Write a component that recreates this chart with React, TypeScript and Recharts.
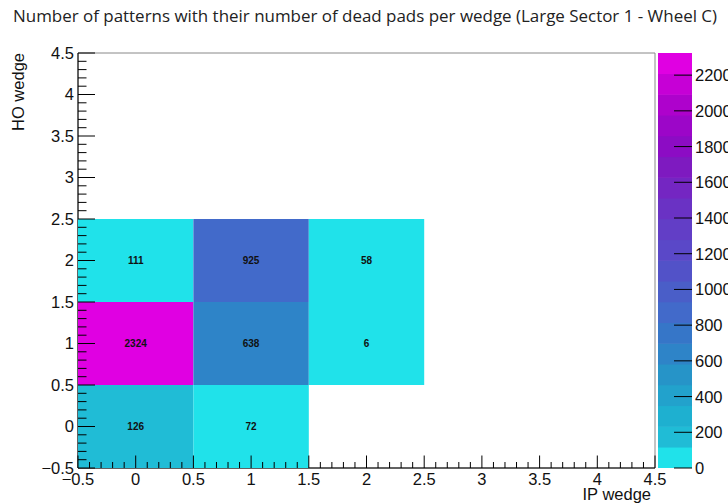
import React from "react";
import { ScatterChart, Scatter, XAxis, YAxis, ReferenceArea } from "recharts";

// bins (IP wedge, HO wedge) and pattern counts
const ipWedge = [0, 1, 0, 1, 2, 0, 1, 2];
const hoWedge = [0, 0, 1, 1, 1, 2, 2, 2];
const patterns = [126, 72, 2324, 638, 6, 111, 925, 58];

const majorTicks = [-0.5, 0, 0.5, 1, 1.5, 2, 2.5, 3, 3.5, 4, 4.5];
const zTicks = [0, 200, 400, 600, 800, 1000, 1200, 1400, 1600, 1800, 2000, 2200];

const palette = [
  "#20e2ea", "#20bcd6", "#1eb0d0", "#22a2cc", "#2694c8",
  "#2e84c8", "#3676c8", "#426aca", "#4a5ec8", "#5252c8",
  "#5a48c8", "#623ec6", "#6a32c4", "#7426c2", "#7e1ac0",
  "#8c0cc4", "#9c06c8", "#ae02cc", "#c600d6", "#e000e2",
];

const W = 728;
const H = 504;
const PL = 78;
const PR = 655;
const PT = 53;
const PB = 468;
const ZL = 658;
const ZR = 692;
const CW = (PR - PL) / 5;
const CH = (PB - PT) / 5;
const BH = (PB - PT) / palette.length;
const ZMAX = Math.max(...patterns);
const FONT = "'Liberation Sans', Arial, sans-serif";

const data = patterns.map((n, i) => ({ ip: ipWedge[i], ho: hoWedge[i], n }));
const bands = palette.map((c, i) => ({ x: 0.5, z: ((i + 0.5) * ZMAX) / palette.length, c }));

// minor ticks every 0.1 between the major ones
const allTicks: number[] = [];
for (let i = 0; i < majorTicks.length - 1; i++) {
  for (let k = 0; k < 5; k++) allTicks.push(Math.round((majorTicks[i] + k * 0.1) * 10) / 10);
}
allTicks.push(majorTicks[majorTicks.length - 1]);

const isMajor = (v: number) => majorTicks.some((m) => Math.abs(m - v) < 1e-6);
const fmt = (v: number) => String(v).replace("-", "\u2212");

const colorOf = (v: number) => {
  const i = Math.min(palette.length - 1, Math.floor((v / ZMAX) * palette.length));
  return palette[i];
};

const YTick = (p: any) => {
  const v = p.payload.value;
  const major = isMajor(v);
  return (
    <g>
      <line x1={PL} x2={PL + (major ? 17 : 8.5)} y1={p.y} y2={p.y} stroke="#000" strokeWidth={1} />
      {major && (
        <text x={PL - 4} y={p.y} dy="0.36em" textAnchor="end" fontSize={16.5} fontFamily={FONT} fill="#111">
          {fmt(v)}
        </text>
      )}
    </g>
  );
};

const XTick = (p: any) => {
  const v = p.payload.value;
  const major = isMajor(v);
  return (
    <g>
      <line x1={p.x} x2={p.x} y1={PB} y2={PB - (major ? 12.5 : 6)} stroke="#000" strokeWidth={1} />
      {major && (
        <text x={p.x} y={PB + 17} textAnchor="middle" fontSize={16.5} fontFamily={FONT} fill="#111">
          {fmt(v)}
        </text>
      )}
    </g>
  );
};

const ZTick = (p: any) => {
  const v = p.payload.value;
  return (
    <g>
      <line x1={ZR} x2={ZR - 18} y1={p.y} y2={p.y} stroke="#000" strokeWidth={1} />
      <text x={ZR + 3} y={p.y} dy="0.36em" textAnchor="start" fontSize={16.5} fontFamily={FONT} fill="#111">
        {v}
      </text>
    </g>
  );
};

const Cell = (p: any) => {
  const { cx, cy, payload } = p;
  return (
    <g>
      <rect x={cx - CW / 2} y={cy - CH / 2} width={CW} height={CH} fill={colorOf(payload.n)} />
      <text x={cx} y={cy} dy="0.36em" textAnchor="middle" fontSize={10} fontWeight="bold" fontFamily={FONT} fill="#111">
        {payload.n}
      </text>
    </g>
  );
};

const Band = (p: any) => {
  const { cy, payload } = p;
  return <rect x={ZL} y={cy - BH / 2 - 0.3} width={ZR - ZL} height={BH + 0.6} fill={payload.c} />;
};

export default function App() {
  return (
    <div style={{ position: "absolute", left: 0, top: 0, width: W, height: H, background: "#fff" }}>
      <div style={{ position: "absolute", left: 0, top: 0 }}>
        <ScatterChart width={W} height={H} margin={{ top: PT, right: W - PR, bottom: 6, left: PL - 60 }}>
          <XAxis
            type="number"
            dataKey="ip"
            domain={[-0.5, 4.5]}
            ticks={allTicks}
            interval={0}
            tick={XTick}
            tickLine={false}
            tickSize={0}
            height={H - PB - 6}
            axisLine={{ stroke: "#000" }}
            allowDataOverflow
          />
          <YAxis
            type="number"
            dataKey="ho"
            domain={[-0.5, 4.5]}
            ticks={allTicks}
            interval={0}
            tick={YTick}
            tickLine={false}
            tickSize={0}
            width={60}
            axisLine={{ stroke: "#000" }}
            allowDataOverflow
          />
          <Scatter data={data} shape={Cell} isAnimationActive={false} />
          <ReferenceArea x1={-0.5} x2={4.5} y1={-0.5} y2={4.5} fill="none" stroke="#888" strokeWidth={1} />
          <text x={365} y={22} textAnchor="middle" fontSize={16} fontFamily="'Open Sans', 'Noto Sans', sans-serif" fill="#222" textLength={704} lengthAdjust="spacingAndGlyphs">
            Number of patterns with their number of dead pads per wedge (Large Sector 1 - Wheel C)
          </text>
          <text x={24} y={PT} textAnchor="end" transform={`rotate(-90 24 ${PT})`} fontSize={16.5} fontFamily={FONT} fill="#111">
            HO wedge
          </text>
          <text x={651} y={500} textAnchor="end" fontSize={16.5} fontFamily={FONT} fill="#111">
            IP wedge
          </text>
        </ScatterChart>
      </div>
      <div style={{ position: "absolute", left: 0, top: 0 }}>
        <ScatterChart width={W} height={H} margin={{ top: PT, right: 0, bottom: H - PB, left: ZL }}>
          <XAxis type="number" dataKey="x" domain={[0, 1]} hide />
          <YAxis
            orientation="right"
            type="number"
            dataKey="z"
            domain={[0, ZMAX]}
            ticks={zTicks}
            interval={0}
            tick={ZTick}
            tickLine={false}
            tickSize={0}
            axisLine={false}
            width={W - ZR}
            allowDataOverflow
          />
          <Scatter data={bands} shape={Band} isAnimationActive={false} />
        </ScatterChart>
      </div>
    </div>
  );
}
